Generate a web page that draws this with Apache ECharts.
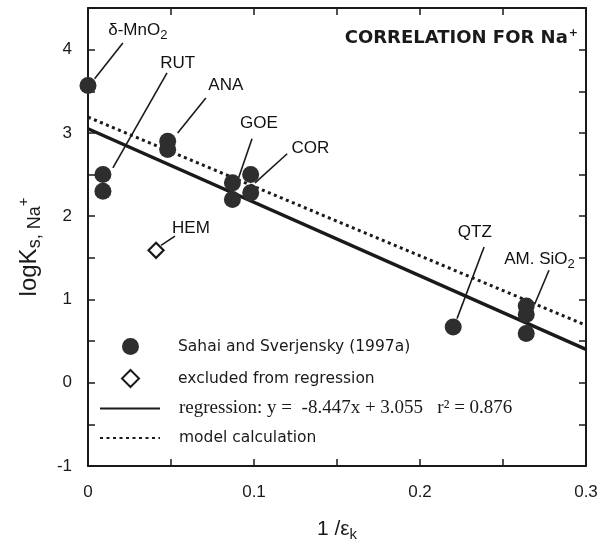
<!DOCTYPE html>
<html>
<head>
<meta charset="utf-8">
<script src="https://cdn.jsdelivr.net/npm/echarts@6/dist/echarts.min.js"></script>
<style>
html,body{margin:0;padding:0;background:#fff;}
#chart{width:601px;height:543px;}
</style>
</head>
<body>
<div id="chart"></div>
<script>
// ---- data ----
const sahaiX = [0.000, 0.009, 0.009, 0.048, 0.048, 0.087, 0.087, 0.098, 0.098, 0.220, 0.264, 0.264, 0.264];
const sahaiY = [3.57, 2.50, 2.30, 2.90, 2.80, 2.40, 2.20, 2.50, 2.28, 0.67, 0.92, 0.82, 0.59];
const excludedX = [0.041];
const excludedY = [1.59];
const regressionX = [0.0, 0.3];
const regressionY = [3.05, 0.40];
const modelX = [0.0, 0.3];
const modelY = [3.19, 0.69];
// mineral labels (text anchors) and leader lines
const labelText = ['δ-MnO{s|2}', 'RUT', 'ANA', 'GOE', 'COR', 'HEM', 'QTZ', 'AM. SiO{s|2}'];
const labelX = [0.030, 0.054, 0.083, 0.103, 0.134, 0.062, 0.233, 0.272];
const labelY = [4.23, 3.83, 3.57, 3.11, 2.82, 1.86, 1.81, 1.48];
const leaderX1 = [0.004, 0.015, 0.054, 0.090, 0.1006, 0.044, 0.2223, 0.269];
const leaderY1 = [3.65, 2.58, 3.00, 2.42, 2.40, 1.65, 0.77, 0.94];
const leaderX2 = [0.021, 0.0476, 0.071, 0.0988, 0.120, 0.0524, 0.2386, 0.2777];
const leaderY2 = [4.08, 3.72, 3.42, 2.93, 2.75, 1.76, 1.63, 1.35];
const xTickLabels = ['0', '0.1', '0.2', '0.3'];
const yTickLabels = ['-1', '0', '1', '2', '3', '4'];
const legendNames = ['Sahai and Sverjensky (1997a)', 'excluded from regression',
  'regression: y =  -8.447x + 3.055   r² = 0.876', 'model calculation'];

const zip = (a, b) => a.map((v, i) => [v, b[i]]);
const ink = '#1a1a1a';
const sans = 'DejaVu Sans, Liberation Sans, Arial, sans-serif';
const sansL = 'Liberation Sans, Arial, sans-serif';

const chart = echarts.init(document.getElementById('chart'), null, {renderer: 'canvas'});

function xFmt(v) {
  const k = Math.round(v * 10);
  if (Math.abs(v * 10 - k) > 1e-6) return '';
  return xTickLabels[k] !== undefined ? xTickLabels[k] : '';
}
function yFmt(v) {
  const k = Math.round(v);
  if (Math.abs(v - k) > 1e-6) return '';
  const s = yTickLabels[k + 1];
  return s !== undefined ? s : '';
}

const axisCommon = {
  type: 'value',
  axisLine: {show: true, onZero: false, lineStyle: {color: ink, width: 2}},
  axisTick: {show: true, inside: true, length: 7, lineStyle: {color: ink, width: 1.5}},
  splitLine: {show: false}
};

const option = {
  backgroundColor: '#fff',
  animation: false,
  textStyle: {fontFamily: sansL},
  title: {
    text: 'CORRELATION FOR Na{p|+}',
    right: 18, top: 23,
    textStyle: {
      fontSize: 18, fontWeight: 'bold', color: ink, fontFamily: sans,
      rich: {p: {fontSize: 11, fontWeight: 'bold', color: ink, fontFamily: sans, padding: [0, 0, 9, 1]}}
    }
  },
  grid: {left: 88, right: 15, top: 8, bottom: 77, containLabel: false, outerBoundsMode: 'none'},
  xAxis: [
    Object.assign({}, axisCommon, {
      position: 'bottom', min: 0, max: 0.3, interval: 0.05,
      axisLabel: {show: true, formatter: xFmt, fontSize: 17, color: ink, margin: 18, showMaxLabel: true},
      name: '1 /ε{k|k}', nameLocation: 'middle', nameGap: 51,
      nameTextStyle: {fontSize: 21, color: ink, rich: {k: {fontSize: 15, color: ink, padding: [10, 0, 0, 0]}}}
    }),
    Object.assign({}, axisCommon, {
      position: 'top', min: 0, max: 0.3, interval: 0.05, axisLabel: {show: false}
    })
  ],
  yAxis: [
    Object.assign({}, axisCommon, {
      position: 'left', min: -1, max: 4.5, interval: 0.5,
      axisLabel: {show: true, formatter: yFmt, fontSize: 17, color: ink, margin: 16},
      name: 'logK{s|s, Na}{p|+}', nameLocation: 'middle', nameGap: 44, nameRotate: 90,
      nameTextStyle: {fontSize: 24, color: ink, padding: [0, 0, 0, -20],
        rich: {s: {fontSize: 18, color: ink, padding: [11, 0, 0, 0]},
               p: {fontSize: 15, color: ink, padding: [0, 0, 12, 0]}}}
    }),
    Object.assign({}, axisCommon, {
      position: 'right', min: -1, max: 4.5, interval: 0.5, axisLabel: {show: false}
    })
  ],
  legend: [
    {
      orient: 'vertical', left: 121, top: 338, padding: 0, itemWidth: 17, itemHeight: 17, itemGap: 14,
      selectedMode: false,
      textStyle: {fontSize: 15.5, color: ink, fontFamily: sans, padding: [0, 0, 0, 34]},
      data: [{name: legendNames[0]}, {name: legendNames[1]}]
    },
    {
      orient: 'vertical', left: 99, top: 399, padding: 0, itemWidth: 60, itemHeight: 16, itemGap: 12,
      selectedMode: false,
      textStyle: {fontSize: 15.5, color: ink, fontFamily: sans, padding: [0, 0, 0, 14]},
      data: [
        {name: legendNames[2], textStyle: {fontFamily: 'Liberation Serif, Times New Roman, serif', fontSize: 19, color: ink, padding: [0, 0, 0, 14]}},
        {name: legendNames[3]}
      ]
    }
  ],
  series: [
    {
      name: legendNames[2], type: 'line', data: zip(regressionX, regressionY),
      symbol: 'none', lineStyle: {color: ink, width: 3.5}, itemStyle: {color: ink, opacity: 0}, z: 3
    },
    {
      name: legendNames[3], type: 'line', data: zip(modelX, modelY),
      symbol: 'none', lineStyle: {color: ink, width: 3, type: [3, 3.5]}, itemStyle: {color: ink, opacity: 0}, z: 3
    },
    {
      name: 'leaders', type: 'lines', coordinateSystem: 'cartesian2d',
      data: leaderX1.map((x, i) => ({coords: [[x, leaderY1[i]], [leaderX2[i], leaderY2[i]]]})),
      lineStyle: {color: ink, width: 1.6, opacity: 1}, z: 2, silent: true
    },
    {
      name: legendNames[0], type: 'scatter', data: zip(sahaiX, sahaiY),
      symbol: 'circle', symbolSize: 17, itemStyle: {color: '#2e2e2e', opacity: 1}, z: 5
    },
    {
      name: legendNames[1], type: 'scatter', data: zip(excludedX, excludedY),
      symbol: 'diamond', symbolSize: 15,
      itemStyle: {color: '#fff', borderColor: ink, borderWidth: 2.2, opacity: 1}, z: 5
    },
    {
      name: 'labels', type: 'scatter', symbolSize: 1, silent: true,
      itemStyle: {color: '#fff', opacity: 0},
      data: labelX.map((x, i) => ({value: [x, labelY[i]], label: {formatter: labelText[i]}})),
      label: {
        show: true, position: 'inside', fontSize: 17, color: '#111',
        textBorderWidth: 0, textBorderColor: 'transparent', opacity: 1,
        fontFamily: sansL,
        rich: {s: {fontSize: 13, color: '#111', textBorderWidth: 0, padding: [10, 0, 0, 0]}}
      },
      z: 6
    }
  ]
};
chart.setOption(option);
</script>
</body>
</html>
